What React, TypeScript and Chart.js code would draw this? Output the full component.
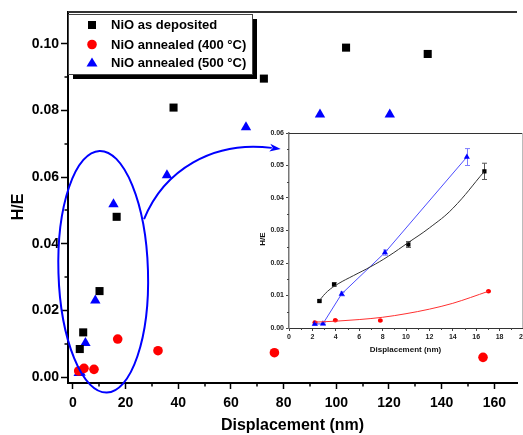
import React, { useEffect, useRef } from "react";
import { Chart, registerables } from "chart.js";
Chart.register(...registerables);

const FONT = "'Liberation Sans', Arial, sans-serif";

// ---------- Main chart data ----------
const depX = [2.6, 3.9, 10.1, 16.6, 38.2, 72.5, 103.7, 134.7];
const depY = [0.0084, 0.0134, 0.0258, 0.0481, 0.0809, 0.0896, 0.0989, 0.097];
const a400X = [2.2, 4.2, 8.0, 17.0, 32.3, 76.5, 155.7];
const a400Y = [0.0018, 0.0026, 0.0023, 0.0114, 0.0079, 0.0073, 0.0059];
const a500X = [2.2, 2.9, 4.75, 8.5, 15.4, 35.7, 65.7, 93.8, 120.3];
const a500Y = [0.0012, 0.0013, 0.0102, 0.023, 0.0519, 0.0606, 0.075, 0.0788, 0.0788];

const mainXTicks = [0, 20, 40, 60, 80, 100, 120, 140, 160];
const mainXMinor = [10, 30, 50, 70, 90, 110, 130, 150];
const mainYTicks = [0, 0.02, 0.04, 0.06, 0.08, 0.1];
const mainYMinor = [0.01, 0.03, 0.05, 0.07, 0.09];

const legendLabels = ["NiO as deposited", "NiO annealed (400 \u00B0C)", "NiO annealed (500 \u00B0C)"];

// ellipse highlight (data units) and arrow (data units)
const ellipseC = [11.5, 0.0316];
const ellipseR = [17.0, 0.0363];
const arrowPts = [
  [27.0, 0.0474],
  [34.5, 0.0621],
  [53.2, 0.0711],
  [75.5, 0.0688],
];

// ---------- Inset data ----------
const inDepX = [2.6, 3.85, 10.2, 16.7];
const inDepY = [0.0083, 0.0134, 0.0257, 0.0482];
const inDepErr = [0.0003, 0.0005, 0.0009, 0.0025];
const inA400X = [2.2, 3.95, 7.8, 17.05];
const inA400Y = [0.0017, 0.0024, 0.0023, 0.0113];
const inA400Err = [0.0002, 0.0002, 0.0002, 0.0002];
const inA500X = [2.2, 2.9, 4.5, 8.2, 15.2];
const inA500Y = [0.0012, 0.0013, 0.0105, 0.0232, 0.0526];
const inA500Err = [0.0003, 0.0003, 0.0006, 0.0008, 0.0026];

const fitDepX = [2.6, 3.3, 4.2, 5.5, 7, 8.5, 10.2, 12, 14, 16.7];
const fitDepY = [0.0085, 0.0113, 0.0136, 0.0161, 0.0189, 0.0221, 0.0263, 0.0308, 0.0368, 0.0482];
const fitA400X = [2.2, 4, 6, 8, 10, 12, 14, 17.05];
const fitA400Y = [0.0018, 0.0021, 0.0026, 0.0033, 0.0044, 0.0058, 0.0076, 0.0113];

const inXTicks = [0, 2, 4, 6, 8, 10, 12, 14, 16, 18, 20];
const inXMinor = [1, 3, 5, 7, 9, 11, 13, 15, 17, 19];
const inYTicks = [0, 0.01, 0.02, 0.03, 0.04, 0.05, 0.06];
const inYMinor = [0.005, 0.015, 0.025, 0.035, 0.045, 0.055];

const pts = (xs: number[], ys: number[]) => xs.map((x, i) => ({ x, y: ys[i] }));

const mainDecor = {
  id: "mainDecor",
  afterDraw(chart: any) {
    const { ctx, chartArea: ca, scales } = chart;
    const sx = scales.x, sy = scales.y;
    ctx.save();
    // top border
    ctx.strokeStyle = "#333";
    ctx.lineWidth = 2;
    ctx.beginPath();
    ctx.moveTo(ca.left, ca.top);
    ctx.lineTo(ca.right, ca.top);
    ctx.stroke();
    // minor ticks
    ctx.strokeStyle = "#000";
    ctx.lineWidth = 1.5;
    ctx.beginPath();
    mainXMinor.forEach((v) => {
      const px = Math.round(sx.getPixelForValue(v));
      ctx.moveTo(px, ca.bottom);
      ctx.lineTo(px, ca.bottom + 3.5);
    });
    mainYMinor.forEach((v) => {
      const py = Math.round(sy.getPixelForValue(v));
      ctx.moveTo(ca.left, py);
      ctx.lineTo(ca.left - 3.5, py);
    });
    ctx.stroke();

    // ellipse
    const cx = sx.getPixelForValue(ellipseC[0]);
    const cy = sy.getPixelForValue(ellipseC[1]);
    const rx = sx.getPixelForValue(ellipseC[0] + ellipseR[0]) - cx;
    const ry = cy - sy.getPixelForValue(ellipseC[1] + ellipseR[1]);
    ctx.strokeStyle = "#0000ff";
    ctx.lineWidth = 2;
    ctx.beginPath();
    ctx.ellipse(cx, cy, rx, ry, -0.03, 0, Math.PI * 2);
    ctx.stroke();

    // arrow curve
    const p = arrowPts.map(([x, y]) => [sx.getPixelForValue(x), sy.getPixelForValue(y)]);
    ctx.beginPath();
    ctx.moveTo(p[0][0], p[0][1]);
    ctx.bezierCurveTo(p[1][0], p[1][1], p[2][0], p[2][1], p[3][0], p[3][1]);
    ctx.stroke();
    const dx = p[3][0] - p[2][0], dy = p[3][1] - p[2][1];
    const len = Math.hypot(dx, dy);
    const ux = dx / len, uy = dy / len;
    const tipX = p[3][0] + ux * 9, tipY = p[3][1] + uy * 9;
    ctx.fillStyle = "#0000ff";
    ctx.beginPath();
    ctx.moveTo(tipX, tipY);
    ctx.lineTo(p[3][0] - uy * 4 - ux * 2, p[3][1] + ux * 4 - uy * 2);
    ctx.lineTo(p[3][0] + ux * 1, p[3][1] + uy * 1);
    ctx.lineTo(p[3][0] + uy * 4 - ux * 2, p[3][1] - ux * 4 - uy * 2);
    ctx.closePath();
    ctx.fill();

    // legend box with shadow
    const lx = ca.left, ly = 14, lw = 184, lh = 60;
    ctx.fillStyle = "#000";
    ctx.fillRect(lx + 5, ly + 5, lw, lh);
    ctx.fillStyle = "#fff";
    ctx.fillRect(lx, ly, lw, lh);
    ctx.strokeStyle = "#444";
    ctx.lineWidth = 1;
    ctx.strokeRect(lx + 0.5, ly + 0.5, lw, lh);
    const rows = [25, 44.5, 63];
    const mx = 92;
    ctx.fillStyle = "#000";
    ctx.fillRect(mx - 4, rows[0] - 4, 8, 8);
    ctx.fillStyle = "#ff0000";
    ctx.beginPath();
    ctx.arc(mx, rows[1], 4.8, 0, Math.PI * 2);
    ctx.fill();
    ctx.fillStyle = "#0000ff";
    ctx.beginPath();
    ctx.moveTo(mx, rows[2] - 5.5);
    ctx.lineTo(mx + 5.5, rows[2] + 3.5);
    ctx.lineTo(mx - 5.5, rows[2] + 3.5);
    ctx.closePath();
    ctx.fill();
    ctx.fillStyle = "#000";
    ctx.font = `bold 13px ${FONT}`;
    ctx.textAlign = "left";
    ctx.textBaseline = "middle";
    legendLabels.forEach((t, i) => ctx.fillText(t, 111, rows[i] + 0.5));

    // axis titles
    ctx.font = `bold 16px ${FONT}`;
    ctx.textAlign = "center";
    ctx.textBaseline = "alphabetic";
    ctx.fillText("Displacement (nm)", (ca.left + ca.right) / 2, 430);
    ctx.save();
    ctx.translate(23, 207);
    ctx.rotate(-Math.PI / 2);
    ctx.fillText("H/E", 0, 0);
    ctx.restore();
    ctx.restore();
  },
};

const insetDecor = {
  id: "insetDecor",
  beforeDatasetsDraw(chart: any) {
    const { ctx, scales } = chart;
    const sx = scales.x, sy = scales.y;
    ctx.save();
    chart.data.datasets.forEach((ds: any) => {
      if (!ds.errors) return;
      ctx.strokeStyle = ds.errColor;
      ctx.lineWidth = 1;
      ds.data.forEach((d: any, i: number) => {
        const e = ds.errors[i];
        const px = Math.round(sx.getPixelForValue(d.x)) + 0.5;
        const t = sy.getPixelForValue(d.y + e);
        const b = sy.getPixelForValue(d.y - e);
        ctx.beginPath();
        ctx.moveTo(px, t);
        ctx.lineTo(px, b);
        ctx.moveTo(px - 2.5, t);
        ctx.lineTo(px + 2.5, t);
        ctx.moveTo(px - 2.5, b);
        ctx.lineTo(px + 2.5, b);
        ctx.stroke();
      });
    });
    ctx.restore();
  },
  afterDraw(chart: any) {
    const { ctx, chartArea: ca, scales } = chart;
    const sx = scales.x, sy = scales.y;
    ctx.save();
    ctx.strokeStyle = "#333";
    ctx.lineWidth = 1;
    ctx.beginPath();
    ctx.moveTo(ca.left, ca.top + 0.5);
    ctx.lineTo(ca.right, ca.top + 0.5);
    ctx.stroke();
    ctx.strokeStyle = "#bbb";
    ctx.beginPath();
    ctx.moveTo(ca.right - 0.5, ca.top);
    ctx.lineTo(ca.right - 0.5, ca.bottom);
    ctx.stroke();
    ctx.strokeStyle = "#444";
    ctx.beginPath();
    inXMinor.forEach((v) => {
      const px = Math.round(sx.getPixelForValue(v)) + 0.5;
      ctx.moveTo(px, ca.bottom);
      ctx.lineTo(px, ca.bottom + 2);
    });
    inYMinor.forEach((v) => {
      const py = Math.round(sy.getPixelForValue(v)) + 0.5;
      ctx.moveTo(ca.left, py);
      ctx.lineTo(ca.left - 2, py);
    });
    ctx.stroke();
    ctx.fillStyle = "#111";
    ctx.font = `bold 8px ${FONT}`;
    ctx.textAlign = "center";
    ctx.textBaseline = "alphabetic";
    ctx.fillText("Displacement (nm)", (ca.left + ca.right) / 2 - 0.5, 227);
    ctx.save();
    ctx.translate(15, 114);
    ctx.rotate(-Math.PI / 2);
    ctx.fillText("H/E", 0, 0);
    ctx.restore();
    ctx.restore();
  },
};

export default function App() {
  const mainRef = useRef<HTMLCanvasElement>(null);
  const insetRef = useRef<HTMLCanvasElement>(null);

  useEffect(() => {
    const tickFont = { family: FONT, size: 14, weight: "bold" as const };
    const main = new Chart(mainRef.current as HTMLCanvasElement, {
      type: "scatter",
      data: {
        datasets: [
          {
            label: legendLabels[0],
            data: pts(depX, depY),
            pointStyle: "rect",
            pointRadius: 5.7,
            backgroundColor: "#000",
            borderColor: "#000",
            borderWidth: 0,
          },
          {
            label: legendLabels[1],
            data: pts(a400X, a400Y),
            pointStyle: "circle",
            pointRadius: 4.8,
            backgroundColor: "#ff0000",
            borderColor: "#ff0000",
            borderWidth: 0,
          },
          {
            label: legendLabels[2],
            data: pts(a500X, a500Y),
            pointStyle: "triangle",
            pointRadius: 6,
            backgroundColor: "#0000ff",
            borderColor: "#0000ff",
            borderWidth: 0,
          },
        ],
      },
      options: {
        animation: false,
        responsive: false,
        maintainAspectRatio: false,
        layout: { padding: { top: 12, right: 0, left: 0, bottom: 0 } },
        plugins: { legend: { display: false }, tooltip: { enabled: false } },
        scales: {
          x: {
            type: "linear",
            min: -1.87,
            max: 168.6,
            afterFit: (s: any) => {
              s.height = 52;
            },
            afterBuildTicks: (s: any) => {
              s.ticks = mainXTicks.map((v) => ({ value: v }));
            },
            grid: { drawOnChartArea: false, drawTicks: true, tickLength: 6, tickWidth: 1.5, tickColor: "#000", color: "#000" },
            border: { color: "#000", width: 2 },
            ticks: { font: tickFont, color: "#000", padding: 6, maxRotation: 0, autoSkip: false, callback: (v: any) => String(v) },
          },
          y: {
            type: "linear",
            min: -0.0018,
            max: 0.1096,
            afterFit: (s: any) => {
              s.width = 68;
            },
            afterBuildTicks: (s: any) => {
              s.ticks = mainYTicks.map((v) => ({ value: v }));
            },
            grid: { drawOnChartArea: false, drawTicks: true, tickLength: 7, tickWidth: 1.5, tickColor: "#000", color: "#000" },
            border: { color: "#000", width: 2 },
            ticks: { font: tickFont, color: "#000", padding: 2, autoSkip: false, callback: (v: any) => Number(v).toFixed(2) },
          },
        },
      },
      plugins: [mainDecor],
    });

    const smallFont = { family: FONT, size: 7, weight: "bold" as const };
    const inset = new Chart(insetRef.current as HTMLCanvasElement, {
      type: "scatter",
      data: {
        datasets: [
          {
            label: "dep fit",
            data: pts(fitDepX, fitDepY),
            showLine: true,
            pointRadius: 0,
            borderColor: "#333",
            borderWidth: 1,
            tension: 0.4,
          },
          {
            label: "400 fit",
            data: pts(fitA400X, fitA400Y),
            showLine: true,
            pointRadius: 0,
            borderColor: "#ff3030",
            borderWidth: 1,
            cubicInterpolationMode: "monotone",
          },
          {
            label: "500",
            data: pts(inA500X, inA500Y),
            showLine: true,
            pointStyle: "triangle",
            pointRadius: 3.5,
            backgroundColor: "#0000ff",
            borderColor: "#4b4bff",
            pointBorderWidth: 0,
            borderWidth: 1,
            errors: inA500Err,
            errColor: "#7b7bff",
          } as any,
          {
            label: "dep",
            data: pts(inDepX, inDepY),
            pointStyle: "rect",
            pointRadius: 3,
            backgroundColor: "#000",
            borderColor: "#000",
            borderWidth: 0,
            errors: inDepErr,
            errColor: "#555",
          } as any,
          {
            label: "400",
            data: pts(inA400X, inA400Y),
            pointStyle: "circle",
            pointRadius: 2.3,
            backgroundColor: "#ff0000",
            borderColor: "#ff0000",
            borderWidth: 0,
            errors: inA400Err,
            errColor: "#ff6060",
          } as any,
        ],
      },
      options: {
        animation: false,
        responsive: false,
        maintainAspectRatio: false,
        layout: { padding: { top: 8, right: 12, left: 0, bottom: 0 } },
        plugins: { legend: { display: false }, tooltip: { enabled: false } },
        scales: {
          x: {
            type: "linear",
            min: 0,
            max: 20,
            afterFit: (s: any) => {
              s.height = 32;
            },
            afterBuildTicks: (s: any) => {
              s.ticks = inXTicks.map((v) => ({ value: v }));
            },
            grid: { drawOnChartArea: false, drawTicks: true, tickLength: 3, tickWidth: 1, tickColor: "#444", color: "#444" },
            border: { color: "#333", width: 1 },
            ticks: { font: smallFont, color: "#222", padding: 2, maxRotation: 0, autoSkip: false, callback: (v: any) => String(v) },
          },
          y: {
            type: "linear",
            min: 0,
            max: 0.06,
            afterFit: (s: any) => {
              s.width = 39;
            },
            afterBuildTicks: (s: any) => {
              s.ticks = inYTicks.map((v) => ({ value: v }));
            },
            grid: { drawOnChartArea: false, drawTicks: true, tickLength: 3, tickWidth: 1, tickColor: "#444", color: "#444" },
            border: { color: "#777", width: 1.5 },
            ticks: { font: smallFont, color: "#222", padding: 2, autoSkip: false, callback: (v: any) => Number(v).toFixed(2) },
          },
        },
      },
      plugins: [insetDecor],
    });

    return () => {
      main.destroy();
      inset.destroy();
    };
  }, []);

  return (
    <div
      style={{
        position: "absolute",
        left: 0,
        top: 0,
        width: 523,
        height: 435,
        overflow: "hidden",
        background: "#fff",
      }}
    >
      <canvas ref={mainRef} width={523} height={435} style={{ position: "absolute", left: 0, top: 0, width: 523, height: 435 }} />
      <canvas ref={insetRef} width={285} height={235} style={{ position: "absolute", left: 250, top: 125, width: 285, height: 235 }} />
    </div>
  );
}
